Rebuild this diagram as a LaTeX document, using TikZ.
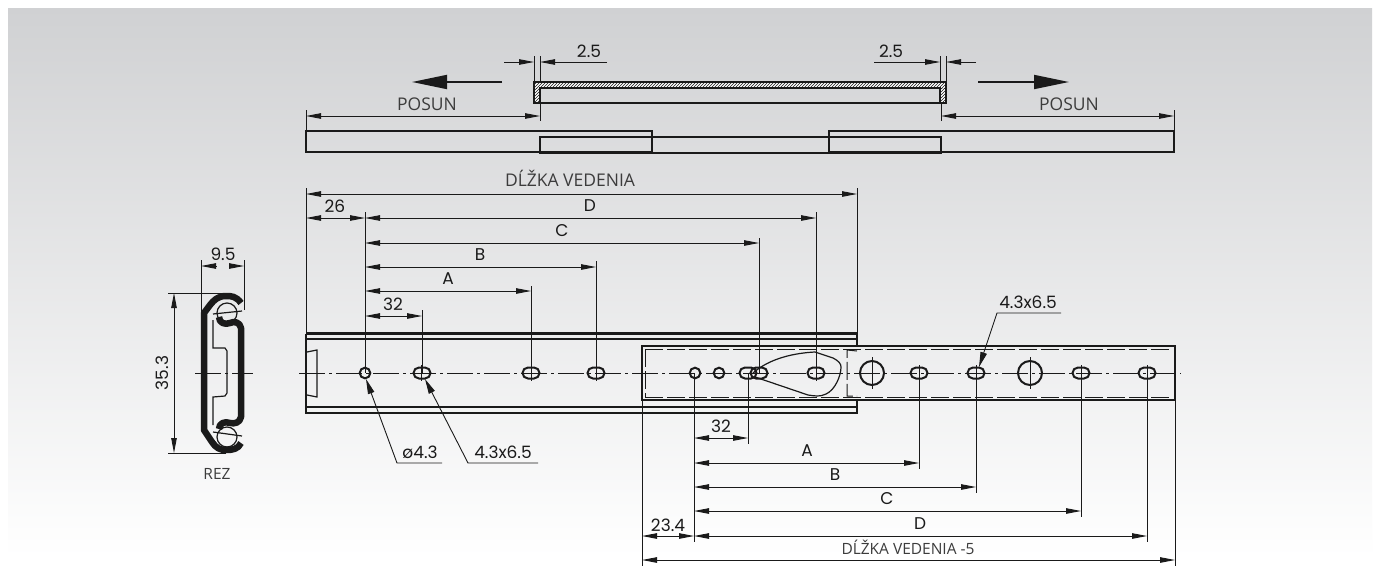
\documentclass[tikz,border=0pt]{standalone}
\usepackage{fontspec}
\setmainfont{Open Sans}
\newfontfamily\dimfont{Poppins}
\usetikzlibrary{arrows.meta,patterns}
\definecolor{inkdark}{HTML}{1A1A1A}
\definecolor{bgtop}{HTML}{D0D1D3}

\begin{document}
\begin{tikzpicture}[
      x=1pt, y=-1pt,
      outline/.style={draw=inkdark, line width=2.2pt},
      thin part/.style={draw=inkdark, line width=1.2pt},
      hidden/.style={draw=inkdark, line width=1pt, dash pattern=on 18pt off 4pt},
      axis/.style={draw=inkdark, line width=0.9pt, dash pattern=on 26pt off 4pt on 3pt off 4pt},
      hole/.style={draw=inkdark, line width=2pt},
      extline/.style={draw=inkdark, line width=0.9pt},
      section wall/.style={draw=inkdark, line width=6.5pt, line join=round},
      hatch/.style={pattern=north east lines, pattern color=inkdark},
      dimline/.style={draw=inkdark, line width=0.9pt, {Triangle[length=15pt,width=5.5pt]}-{Triangle[length=15pt,width=5.5pt]}},
      tipin/.style={draw=inkdark, line width=0.9pt, -{Triangle[length=15pt,width=5.5pt]}},
      leader/.style={draw=inkdark, line width=0.9pt, {Triangle[length=15pt,width=6.5pt]}-},
      bigarrow/.style={draw=inkdark, line width=1.8pt, -{Triangle[length=35pt,width=14pt]}},
      dimtext/.style={font=\dimfont\fontsize{17}{17}\selectfont, text=inkdark, inner sep=0pt},
      word/.style={font=\fontsize{17.5}{17.5}\selectfont, text=inkdark!85, inner sep=0pt},
      smallword/.style={font=\fontsize{15.5}{15.5}\selectfont, text=inkdark!85, inner sep=0pt}
    ]
    % background
    \useasboundingbox (0,0) rectangle (1380,565);
    \fill[white] (0,0) rectangle (1380,565);
    \shade[top color=bgtop, bottom color=white] (8,8) rectangle (1372,557);

    % top view
    \fill[white] (534,82) rectangle (946,88);
    \fill[white] (534,88) rectangle (540,103);
    \fill[white] (940,88) rectangle (946,103);
    \fill[hatch] (534,82) rectangle (946,88);
    \fill[hatch] (534,88) rectangle (540,103);
    \fill[hatch] (940,88) rectangle (946,103);
    \draw[outline] (540,103) -- (534,103) -- (534,82) -- (946,82) -- (946,103) -- (940,103);
    \draw[outline] (540,103) -- (940,103) -- (940,88) -- (540,88) -- cycle;
    \draw[outline] (306,131) rectangle (652,152);
    \draw[outline] (829,131) rectangle (1174,152);
    \draw[outline] (540,137) rectangle (652,153);
    \draw[outline] (829,137) rectangle (941,153);
    \draw[thin part] (652,137) -- (829,137);
    \draw[outline] (652,153) -- (829,153);

    \draw[bigarrow] (502,82) -- (412,82);
    \draw[bigarrow] (978,82) -- (1069,82);

    \foreach \xa in {534,540,940,946}
      \draw[extline] (\xa,56) -- (\xa,82);
    \draw[tipin] (504,62) -- (534,62);
    \draw[tipin] (607,62) -- (540,62);
    \draw[tipin] (874,62) -- (940,62);
    \draw[tipin] (976,62) -- (946,62);
    \node[dimtext] (gapl) at (589,51) {2.5};
    \node[dimtext] (gapr) at (891,51) {2.5};

    \draw[extline] (306,110) -- (306,131);
    \draw[extline] (540,103) -- (540,121);
    \draw[extline] (941,103) -- (941,121);
    \draw[extline] (1174,110) -- (1174,131);
    \draw[dimline] (306,116) -- (540,116);
    \draw[dimline] (941,116) -- (1174,116);
    \node[word] (posunl) at (427,104) {POSUN};
    \node[word] (posunr) at (1069,104) {POSUN};

    % front view, outer rail
    \draw[outline] (306,333.5) -- (857,333.5) -- (857,346);
    \draw[outline] (306,339) -- (857,339);
    \draw[outline] (306,333.5) -- (306,413) -- (642,413);
    \draw[outline] (306,407) -- (642,407);
    \draw[outline] (642,407) -- (857,407);
    \draw[outline] (642,413) -- (857,413) -- (857,400);
    \draw[thin part] (307,352) -- (317,350) -- (317,397) -- (307,395);

    % front view, inner rail
    \draw[outline] (642,346) rectangle (1175,400);
    \draw[hidden] (645,349) -- (1172,349);
    \draw[hidden] (645,397) -- (1172,397);
    \draw[hidden] (645,349) -- (645,397);
    \draw[hidden] (857,351) -- (847,350) -- (847,396) -- (857,396);
    \draw[thin part] (753,373) .. controls (770,358) and (795,353) .. (815,352)
      -- (833,358) .. controls (839,361) and (841,364) .. (841,367)
      .. controls (841,376) and (835,390) .. (826,394)
      .. controls (820,397) and (815,396) .. (808,395) -- (755,377);

    % center lines
    \draw[axis] (299,373) -- (1181,373);
    \draw[axis] (195,373) -- (253,373);

    % holes
    \foreach \xa in {422,531,596,748,759,816,919,976,1081,1147}
      \draw[hole] (\xa-3,367.5) -- (\xa+3,367.5) arc (-90:90:5.5) -- (\xa-3,378.5) arc (90:270:5.5) -- cycle;
    \foreach \xa in {365,695,719}
      \draw[hole] (\xa,373) circle (5.3);
    \foreach \xa in {872,1030}
      \draw[hole] (\xa,373) circle (12);
    \foreach \xa in {872,1030}
      \draw[extline] (\xa,357) -- (\xa,389);
    \foreach \xa in {421,531,596,816,919,976,1081,1147}
      \draw[extline] (\xa,365) -- (\xa,381);

    % upper dimensions
    \draw[extline] (306,188) -- (306,333);
    \draw[extline] (857,188) -- (857,333);
    \draw[extline] (365,212) -- (365,373);
    \foreach \xa/\ya in {422/310,531/286,596/261,759/238,816/212}
      \draw[extline] (\xa,\ya) -- (\xa,373);
    \draw[dimline] (306,194) -- (857,194);
    \draw[dimline] (306,218) -- (365,218);
    \foreach \xa/\ya in {816/218,759/243,596/267,531/291,422/316}
      \draw[dimline] (365,\ya) -- (\xa,\ya);
    \node[word] (lenu) at (570,178) {DĹŽKA VEDENIA};
    \node[dimtext] (d26) at (335,206) {26};
    \node[dimtext] (du) at (590,206) {D};
    \node[dimtext] (cu) at (562,231) {C};
    \node[dimtext] (bu) at (480,255) {B};
    \node[dimtext] (au) at (448,279) {A};
    \node[dimtext] (d32u) at (393,304) {32};

    % lower dimensions
    \draw[extline] (642,400) -- (642,566);
    \draw[extline] (1175,400) -- (1175,566);
    \draw[extline] (694,373) -- (694,542);
    \foreach \xa/\ya in {748/444,919/469,976/493,1081/517,1147/542}
      \draw[extline] (\xa,373) -- (\xa,\ya);
    \foreach \xa/\ya in {748/438,919/463,976/487,1081/511,1147/536}
      \draw[dimline] (694,\ya) -- (\xa,\ya);
    \draw[dimline] (642,536) -- (694,536);
    \draw[dimline] (642,560) -- (1175,560);
    \node[dimtext] (d32l) at (721,426) {32};
    \node[dimtext] (al) at (807,451) {A};
    \node[dimtext] (bl) at (835,475) {B};
    \node[dimtext] (cl) at (887,499) {C};
    \node[dimtext] (dl) at (920,524) {D};
    \node[dimtext] (d234) at (668,525) {23.4};
    \node[smallword] (lenl) at (908,547) {DĹŽKA VEDENIA -5};

    % hole callouts
    \draw[leader] (366,379) -- (397,463) -- (442,463);
    \draw[leader] (425,379) -- (468,463) -- (538,463);
    \draw[leader] (979,367) -- (997,313) -- (1061,313);
    \node[dimtext] (dia) at (420,452) {ø4.3};
    \node[dimtext] (slotl) at (503,452) {4.3x6.5};
    \node[dimtext] (slotr) at (1028,302) {4.3x6.5};

    % section
    \draw[thin part] (227,313) circle (10);
    \draw[thin part] (227,437) circle (10);
    \draw[section wall] (241,303) .. controls (236,296) and (231,296) .. (226,296)
      .. controls (218,296) and (214,300) .. (210,305) -- (204,313) -- (204,430) -- (212,442)
      .. controls (216,448) and (220,450) .. (226,450)
      .. controls (233,450) and (238,449) .. (241,443);
    \draw[section wall] (219,317) .. controls (219,323) and (225,325) .. (230,323)
      .. controls (234,321) and (240,322) .. (241,328) -- (241,417)
      .. controls (240,423) and (234,424) .. (230,423)
      .. controls (225,421) and (219,423) .. (219,429);
    \draw[thin part] (213,320) -- (213,348) -- (225,348) -- (227,351) -- (227,393) -- (225,396) -- (213,397) -- (213,425);
    \draw[thin part] (213,314) -- (242,311);
    \draw[thin part] (213,432) -- (242,436);

    \draw[extline] (201,260) -- (201,313);
    \draw[extline] (244,260) -- (244,310);
    \draw[tipin] (216,266) -- (201,266);
    \draw[tipin] (229,266) -- (244,266);
    \draw[extline] (168,293) -- (226,293);
    \draw[extline] (168,453) -- (226,453);
    \draw[dimline] (174,293) -- (174,453);
    \node[dimtext] (w95) at (223,254) {9.5};
    \node[dimtext, rotate=90] (h353) at (162,373) {35.3};
    \node[smallword] (rez) at (217,474) {REZ};
  \end{tikzpicture}
\end{document}
